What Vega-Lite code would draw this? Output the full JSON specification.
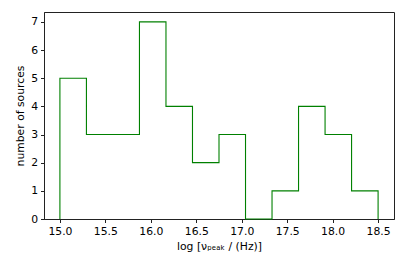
{
  "$schema": "https://vega.github.io/schema/vega-lite/v6.json",
  "width": 350,
  "height": 207,
  "autosize": {"type": "none"},
  "padding": {"left": 44, "top": 12, "right": 13, "bottom": 52},
  "background": "white",
  "config": {
    "view": {"stroke": "#222", "strokeWidth": 1},
    "font": "DejaVu Sans",
    "axis": {
      "grid": false,
      "domainColor": "#222",
      "tickColor": "#222",
      "tickSize": 3.5,
      "labelColor": "#000",
      "titleColor": "#000",
      "labelFont": "DejaVu Sans",
      "titleFont": "DejaVu Sans",
      "labelFontSize": 10.8,
      "titleFontSize": 10.8,
      "titleFontWeight": "normal",
      "labelPadding": 3
    }
  },
  "data": {
    "values": [
      {"i": 0, "x": 15.0, "y": 0},
      {"i": 1, "x": 15.0, "y": 5},
      {"i": 2, "x": 15.2917, "y": 3},
      {"i": 3, "x": 15.5833, "y": 3},
      {"i": 4, "x": 15.875, "y": 7},
      {"i": 5, "x": 16.1667, "y": 4},
      {"i": 6, "x": 16.4583, "y": 2},
      {"i": 7, "x": 16.75, "y": 3},
      {"i": 8, "x": 17.0417, "y": 0},
      {"i": 9, "x": 17.3333, "y": 1},
      {"i": 10, "x": 17.625, "y": 4},
      {"i": 11, "x": 17.9167, "y": 3},
      {"i": 12, "x": 18.2083, "y": 1},
      {"i": 13, "x": 18.5, "y": 1},
      {"i": 14, "x": 18.5, "y": 0}
    ]
  },
  "mark": {"type": "line", "interpolate": "step-after", "color": "#008000", "strokeWidth": 1.1},
  "encoding": {
    "x": {
      "field": "x",
      "type": "quantitative",
      "scale": {"domain": [14.825, 18.675], "nice": false, "zero": false},
      "axis": {"values": [15.0, 15.5, 16.0, 16.5, 17.0, 17.5, 18.0, 18.5], "format": ".1f", "title": "log [νₚₑₐₖ / (Hz)]", "titlePadding": 4}
    },
    "y": {
      "field": "y",
      "type": "quantitative",
      "scale": {"domain": [0, 7.35], "nice": false},
      "axis": {"values": [0, 1, 2, 3, 4, 5, 6, 7], "title": "number of sources", "titlePadding": 5}
    },
    "order": {"field": "i", "type": "quantitative"}
  }
}
